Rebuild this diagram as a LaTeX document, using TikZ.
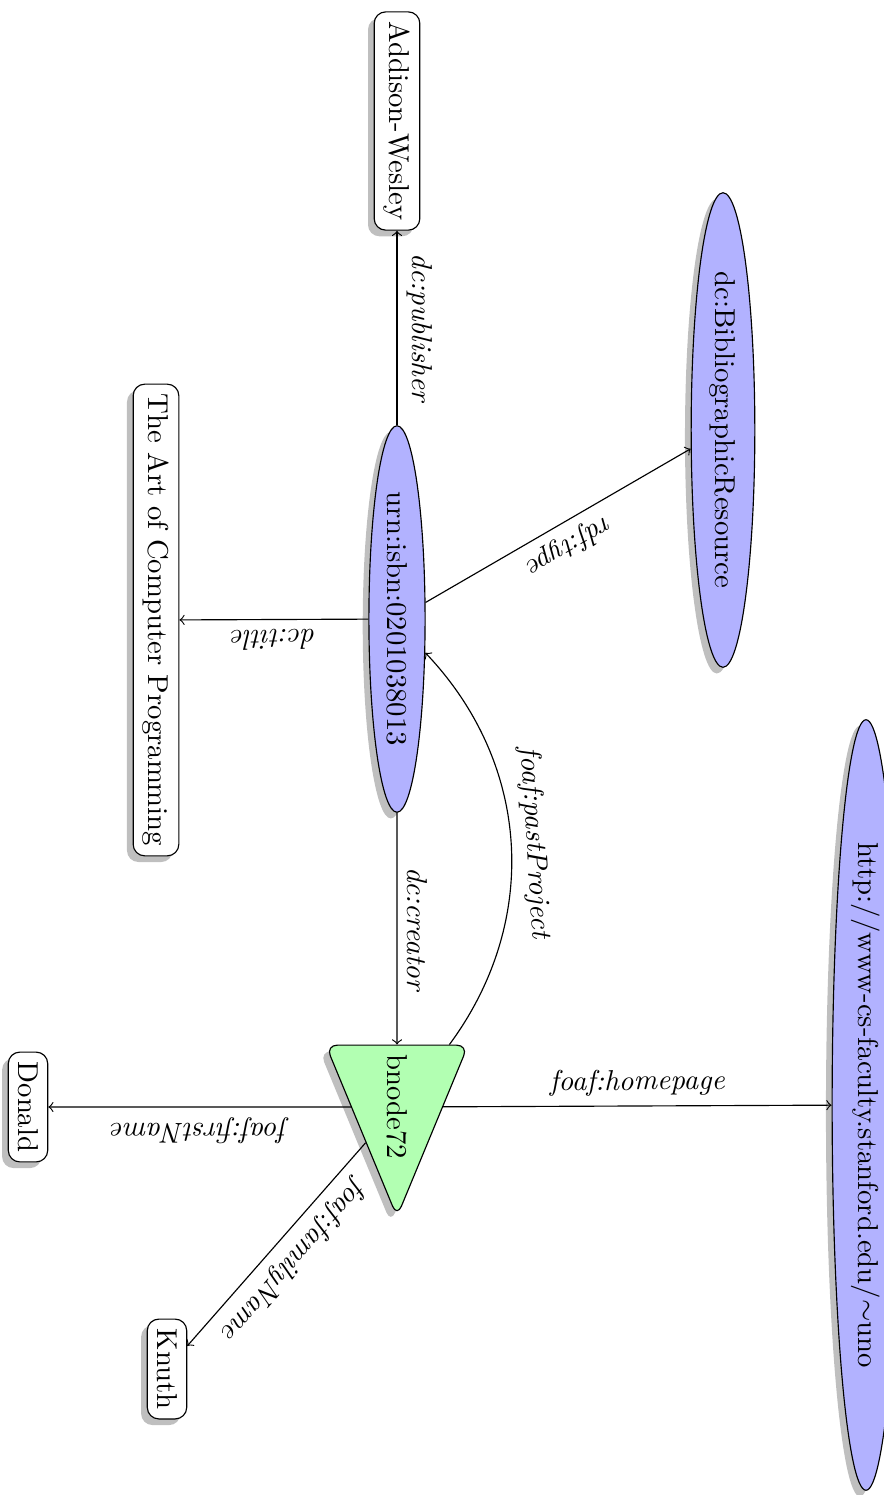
\documentclass[tikz,border=0pt]{standalone}
\usepackage{amsmath}
\usepackage{amssymb}
\usetikzlibrary{shapes.geometric,shadows}

\tikzset{
  shade/.style={drop shadow={shadow xshift=-.5ex, shadow yshift=-.5ex}},
  resource/.style={ellipse, draw, fill=blue!30, shade},
  blank/.style={isosceles triangle, isosceles triangle apex angle=45,
                rounded corners, draw, fill=green!30, shade},
  literal/.style={rectangle, rounded corners, draw, fill=white, shade},
  prop/.style={sloped, above, font=\itshape}
}

\begin{document}
\begin{tikzpicture}[x=0.348pt, y=0.348pt, rotate=-90, transform shape, >=to]
  \useasboundingbox (0,0) rectangle (1495,884);
  \node[resource] (book) at (619,397) {urn:isbn:0201038013};
  \node[literal] (publisher) at (121,397) {Addison-Wesley};
  \node[literal] (title) at (620,156) {The Art of Computer Programming};
  \node[resource] (class) at (430,723) {dc:BibliographicResource};
  \node[blank] (author) at (1107,397) {bnode72};
  \node[resource] (home) at (1105,866) {http://www-cs-faculty.stanford.edu/$\sim$uno};
  \node[literal] (first) at (1107,28) {Donald};
  \node[literal] (last) at (1369,167) {Knuth};

  \draw[->] (book) -- node[prop] {dc:publisher} (publisher);
  \draw[->] (book) -- node[prop] {dc:title} (title);
  \draw[->] (book) -- node[prop] {rdf:type} (class);
  \draw[->] (book) -- node[prop] {dc:creator} (author);
  \draw[->] (author) to[bend right=40] node[prop] {foaf:pastProject} (book);
  \draw[->] (author) -- node[prop, allow upside down] {foaf:homepage} (home);
  \draw[->] (author) -- node[prop, allow upside down] {foaf:firstName} (first);
  \draw[->] (author) -- node[prop] {foaf:familyName} (last);
\end{tikzpicture}
\end{document}
